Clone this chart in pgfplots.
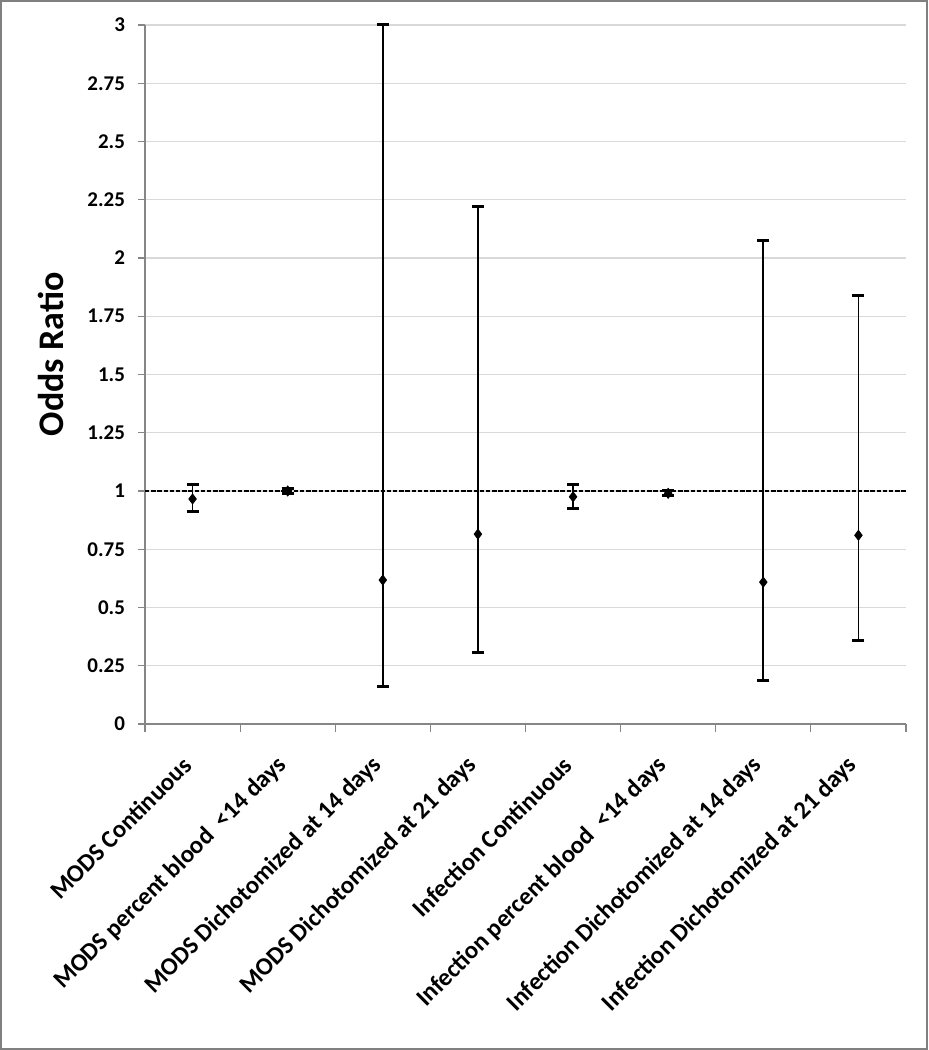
\documentclass[border=0pt]{standalone}
\usepackage{fontspec}
\setmainfont{Carlito}
\usepackage{pgfplots}
\pgfplotsset{compat=1.18}
\usepackage{pgfplotstable}
\definecolor{axgray}{RGB}{134,134,134}
\definecolor{gridgray}{RGB}{217,217,217}
\definecolor{framegray}{RGB}{128,128,128}

\pgfplotstableread{
x y lo hi
0 0.966 0.911 1.030
1 1.000 0.990 1.010
2 0.618 0.159 3.000
3 0.815 0.309 2.219
4 0.975 0.927 1.026
5 0.990 0.980 1.000
6 0.609 0.185 2.073
7 0.810 0.357 1.837
}\ortable

\begin{document}
\begin{tikzpicture}
\useasboundingbox (0,0) rectangle (464pt,525pt);
\fill[white] (0,0) rectangle (464pt,525pt);
\begin{axis}[
  at={(72.5pt,163pt)}, anchor=south west,
  scale only axis, width=380.5pt, height=349.5pt,
  xmin=-0.5, xmax=7.5, ymin=0, ymax=3,
  axis x line=bottom, axis y line=left,
  axis line style={axgray, line width=0.6pt, -},
  ytick={0,0.25,0.5,0.75,1,1.25,1.5,1.75,2,2.25,2.5,2.75,3},
  ymajorgrids, grid style={gridgray, line width=0.6pt},
  xtick={0,1,2,3,4,5,6,7},
  xticklabels={MODS Continuous, MODS percent blood\ \ <14 days, MODS Dichotomized at 14 days, MODS Dichotomized at 21 days, Infection Continuous, Infection percent blood\ \ <14 days, Infection Dichotomized at 14 days, Infection Dichotomized at 21 days},
  minor xtick={-0.5,0.5,1.5,2.5,3.5,4.5,5.5,6.5,7.5},
  major x tick style={draw=none},
  tick align=outside,
  major tick length=3.5pt, minor tick length=4pt,
  tick style={axgray, line width=0.6pt},
  /pgf/number format/assume math mode=true,
  yticklabel style={font=\fontsize{10.5}{12}\selectfont\bfseries, black, xshift=-3pt},
  xticklabel style={font=\fontsize{12.4}{14}\selectfont\bfseries, black, xshift=-2.5pt, yshift=-15pt, rotate=45, anchor=east, inner sep=0pt},
  ylabel={Odds Ratio},
  every axis y label/.style={at={(axis description cs:-0.1235,0.529)}, rotate=90, anchor=center, font=\fontsize{18}{20}\selectfont\bfseries},
  clip=false,
]
\addplot[black, line width=1pt, dash pattern=on 2.2pt off 0.9pt, forget plot] coordinates {(-0.5,1) (7.5,1)};
\addplot[only marks, mark=diamond*, mark size=2.5pt, black,
  error bars/.cd, y dir=both, y explicit,
  error bar style={line width=0.9pt, black},
  error mark options={rotate=90, mark size=3pt, line width=1.5pt, black}]
  table[x=x, y=y, y error plus expr=\thisrow{hi}-\thisrow{y}, y error minus expr=\thisrow{y}-\thisrow{lo}] \ortable;
\end{axis}
\draw[framegray, line width=1.2pt] (0.6pt,0.6pt) rectangle (463.4pt,524.4pt);
\end{tikzpicture}
\end{document}
